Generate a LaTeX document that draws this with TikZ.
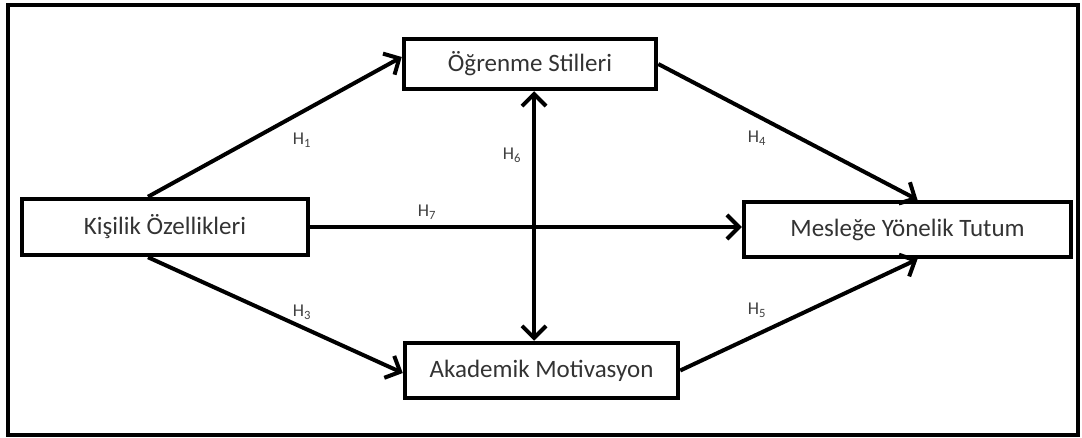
\documentclass[tikz,border=0pt]{standalone}
\usepackage{fontspec}
\setmainfont{Carlito}
\usetikzlibrary{positioning}
\usetikzlibrary{calc}
\usetikzlibrary{arrows.meta}

\begin{document}
\begin{tikzpicture}[x=1pt,y=-1pt,box/.style={draw, line width=4.5pt, inner sep=0pt, text=black!80, font=\fontsize{25}{28}\selectfont},hyp/.style={text=black!75, font=\fontsize{18}{20}\selectfont},arr/.style={line width=4pt, -{Straight Barb[length=12pt,width=24pt]}},darr/.style={line width=4pt, {Straight Barb[length=12pt,width=24pt]}-{Straight Barb[length=12pt,width=24pt]}}]
\useasboundingbox (0,0) rectangle (1082,438);
\draw[line width=4pt] (8,5) rectangle (1078,435);
\node (ogr) at (530,64) [box, minimum width=252pt, minimum height=50pt] {Öğrenme Stilleri};
\node (kis) at (165,227) [box, minimum width=286pt, minimum height=56pt] {Kişilik Özellikleri};
\node (mes) at (907.5,229.5) [box, minimum width=327pt, minimum height=55pt] {Mesleğe Yönelik Tutum};
\node (aka) at (541.5,370.5) [box, minimum width=273pt, minimum height=55pt] {Akademik Motivasyon};
\draw[arr] ([xshift=-17pt]kis.north) -- ([yshift=7pt]ogr.west);
\draw[arr] ([xshift=-17pt]kis.south) -- ([yshift=-2.5pt]aka.west);
\draw[arr] (kis.east) -- (kis.east -| mes.west);
\draw[arr] (ogr.east) -- ([xshift=10pt]mes.north);
\draw[arr] (aka.east) -- ([xshift=10pt]mes.south);
\draw[darr] ([xshift=4pt]ogr.south) -- ([xshift=4pt]ogr.south |- aka.north);
\node (h1) at (302,140) [hyp] {H\textsubscript{1}};
\node (h3) at (302,312) [hyp] {H\textsubscript{3}};
\node (h4) at (757,138) [hyp] {H\textsubscript{4}};
\node (h5) at (757,310) [hyp] {H\textsubscript{5}};
\node (h6) at (512,155) [hyp] {H\textsubscript{6}};
\node (h7) at (427,212) [hyp] {H\textsubscript{7}};
\end{tikzpicture}
\end{document}
